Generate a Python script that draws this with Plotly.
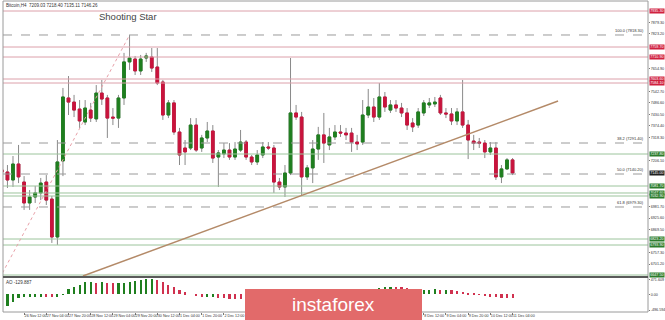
import plotly.graph_objects as go

# ---------------- data ----------------
open_ = [7160,7150,7111,7189,7101,6999,7028,7048,7101,7018,6833,7204,7511,7491,7457,7394,7452,7409,7535,7511,
         7418,7413,7511,7687,7701,7643,7706,7711,7662,7589,7428,7487,7345,7267,7267,7379,7267,7316,7350,7223,
         7238,7257,7223,7257,7296,7223,7199,7233,7272,7267,7101,7077,7145,7438,7418,7126,7170,7262,7331,7282,
         7321,7345,7340,7340,7296,7296,7428,7467,7418,7516,7452,7477,7462,7438,7389,7379,7438,7477,7482,7511,
         7438,7433,7399,7443,7379,7301,7296,7291,7248,7267,7126,7165,7209]
close = [7150,7111,7189,7126,6999,7028,7048,7096,7013,6833,7199,7516,7491,7452,7399,7462,7413,7535,7506,7413,
         7413,7511,7687,7706,7643,7701,7716,7657,7584,7428,7487,7345,7233,7248,7379,7257,7316,7350,7218,7243,
         7257,7223,7262,7296,7223,7199,7233,7272,7267,7101,7077,7145,7438,7418,7126,7170,7262,7331,7291,7321,
         7345,7340,7331,7296,7287,7428,7467,7418,7516,7467,7477,7462,7438,7379,7370,7443,7487,7487,7491,7438,
         7433,7399,7443,7379,7306,7291,7291,7248,7267,7126,7165,7209,7145]
high = [7184,7184,7228,7282,7130,7062,7082,7121,7135,7033,7306,7560,7618,7526,7501,7501,7487,7574,7599,7526,
        7462,7526,7731,7818,7716,7721,7731,7755,7755,7599,7501,7501,7365,7306,7413,7413,7331,7394,7379,7257,
        7291,7291,7296,7355,7306,7233,7257,7296,7296,7282,7121,7184,7706,7477,7443,7184,7306,7370,7438,7365,
        7379,7379,7365,7365,7331,7501,7555,7511,7584,7540,7501,7501,7487,7462,7413,7462,7501,7511,7516,7526,
        7462,7462,7462,7599,7404,7331,7316,7306,7296,7296,7184,7218,7218]
low = [7087,7072,7077,7096,6965,6965,6999,7013,6989,6804,6794,7130,7428,7418,7365,7379,7394,7394,7477,7316,
       7379,7365,7477,7648,7623,7623,7687,7638,7574,7404,7413,7331,7184,7184,7257,7248,7248,7296,7194,7077,
       7218,7209,7209,7248,7209,7184,7184,7218,7257,7048,7062,7028,7135,7404,7038,7111,7096,7209,7194,7257,
       7306,7321,7306,7248,7257,7282,7413,7394,7404,7443,7438,7443,7418,7355,7345,7365,7423,7462,7467,7428,
       7413,7379,7379,7365,7213,7257,7267,7218,7233,7111,7096,7160,7135]
ao = [-510,-360,-230,-130,-95,-88,-80,-70,-82,-90,-70,-15,170,230,300,390,400,370,375,350,
      340,350,365,400,430,455,480,490,460,400,300,230,150,60,0,-50,-100,-80,-75,-120,
      -130,-140,-145,-150,-160,-170,-165,-150,-140,-160,-190,-200,-150,-110,-120,-110,-80,-40,-20,0,
      20,40,50,45,40,80,130,160,200,220,240,235,220,190,160,140,145,150,160,140,
      145,120,100,80,40,10,-20,-50,-80,-100,-105,-120,-130]
time_labels = ["25 Nov 2019","26 Nov 12:00","27 Nov 04:00","27 Nov 20:00","28 Nov 12:00","29 Nov 04:00",
               "29 Nov 20:00","30 Nov 12:00","1 Dec 04:00","1 Dec 20:00","2 Dec 12:00","3 Dec 04:00",
               "3 Dec 20:00","4 Dec 12:00","5 Dec 04:00","5 Dec 20:00","6 Dec 12:00","7 Dec 04:00",
               "7 Dec 20:00","8 Dec 12:00","9 Dec 04:00","9 Dec 20:00","10 Dec 12:00","11 Dec 04:00"]
red_levels = [7935.3, 7759.7, 7710.9, 7603.6, 7584.1]
green_levels = [7237.8, 7081.7, 7047.6, 7032.9, 6823.2, 6793.9, 6647.5]
fib_names = ["100.0", "38.2", "50.0", "61.8"]
fib_prices = [7818.3, 7291.4, 7140.2, 6979.3]
fib_line_x = [0.1, 23]
fib_line_p = [6657.3, 7818.3]
trend_x = [14.6, 100.2]
trend_p = [6642.7, 7496.3]
tick_start, tick_step = 6645.1, 56.1
ao_labels = [471.609, 0.0, -496.594]
header = "Bitcoin,H4  7209.03 7218.40 7135.11 7146.26"
ao_title = "AO -129.887"

# ---------------- figure ----------------
W, H = 665, 320
n = len(close)
idx = list(range(n))
GREEN, RED = "#1f7f1f", "#c9143d"
FONT = "Liberation Sans"

def py(p):  # paper y from pixel row
    return 1 - p / H

X0, X1 = 3 / W, 648 / W
main_dom = [py(276), py(1)]
ao_dom = [py(312), py(278)]
yr = [6642.7, 7984.1]
ao_r = [-556, 512]

fig = go.Figure()
fig.add_trace(go.Candlestick(
    x=idx, open=open_, close=close, high=high, low=low,
    increasing=dict(line=dict(color="#8a8a8a", width=1), fillcolor="#8a8a8a"),
    decreasing=dict(line=dict(color="#8a8a8a", width=1), fillcolor="#8a8a8a"),
    whiskerwidth=0, showlegend=False, hoverinfo="skip", xaxis="x", yaxis="y"))
body_hi = [max(o, c) for o, c in zip(open_, close)]
body_lo = [min(o, c) for o, c in zip(open_, close)]
fig.add_trace(go.Candlestick(
    x=idx, open=open_, close=close, high=body_hi, low=body_lo,
    increasing=dict(line=dict(color=GREEN, width=1), fillcolor=GREEN),
    decreasing=dict(line=dict(color=RED, width=1), fillcolor=RED),
    whiskerwidth=0, showlegend=False, hoverinfo="skip", xaxis="x", yaxis="y"))

ao_colors = []
for k, v in enumerate(ao):
    ao_colors.append(GREEN if (k == 0 or v >= ao[k - 1]) else "#d0314f")
fig.add_trace(go.Bar(x=idx, y=ao, marker=dict(color=ao_colors, line=dict(width=0)),
                     width=0.38, showlegend=False, hoverinfo="skip", xaxis="x", yaxis="y2"))

shapes = []
for p in red_levels:
    shapes.append(dict(type="line", xref="paper", yref="y", x0=X0, x1=X1, y0=p, y1=p,
                       line=dict(color="#dca0aa", width=1)))
for p in green_levels:
    shapes.append(dict(type="line", xref="paper", yref="y", x0=X0, x1=X1, y0=p, y1=p,
                       line=dict(color="#9cc49c", width=1)))
for p in fib_prices:
    shapes.append(dict(type="line", xref="paper", yref="y", x0=X0, x1=X1, y0=p, y1=p,
                       line=dict(color="#9a9a9a", width=1, dash="dash")))
shapes.append(dict(type="line", xref="x", yref="y", x0=fib_line_x[0], x1=fib_line_x[1],
                   y0=fib_line_p[0], y1=fib_line_p[1], line=dict(color="#e8a0a8", width=1, dash="dot")))
shapes.append(dict(type="line", xref="x", yref="y", x0=trend_x[0], x1=trend_x[1],
                   y0=trend_p[0], y1=trend_p[1], line=dict(color="#b48a68", width=1.5)))
shapes.append(dict(type="rect", xref="paper", yref="paper", x0=X0, x1=X1, y0=ao_dom[0], y1=main_dom[1],
                   line=dict(color="#9a9a9a", width=1)))
shapes.append(dict(type="line", xref="paper", yref="paper", x0=X0, x1=X1, y0=py(277), y1=py(277),
                   line=dict(color="#5a5a5a", width=2)))
shapes.append(dict(type="rect", xref="paper", yref="paper", x0=245 / W, x1=422 / W, y0=0, y1=py(289),
                   fillcolor="#e26a6a", line=dict(width=0), layer="above"))

ann = []
def box(p, color):
    ann.append(dict(xref="paper", yref="y", x=X1 + 1 / W, y=p, xanchor="left", yanchor="middle",
                    text="%.2f" % p, showarrow=False, bgcolor=color,
                    font=dict(size=3.7, color="white", family=FONT), borderpad=0.2))
for p in red_levels:
    box(p, "#d0213f")
for p in green_levels:
    box(p, "#2d7d2d")
box(close[-1], "#202020")
for name, p in zip(fib_names, fib_prices):
    ann.append(dict(xref="paper", yref="y", x=X1 - 2 / W, y=p, xanchor="right", yanchor="bottom",
                    text="%s (%.2f)" % (name, p), showarrow=False,
                    font=dict(size=4, color="#333333", family=FONT)))
ann.append(dict(xref="paper", yref="paper", x=4 / W, y=py(1.5), xanchor="left", yanchor="top",
                text=header, showarrow=False, font=dict(size=4.5, color="#333333", family=FONT)))
ann.append(dict(xref="paper", yref="paper", x=128 / W, y=py(16), xanchor="center", yanchor="middle",
                text="Shooting Star", showarrow=False, font=dict(size=9.5, color="#444444", family=FONT)))
ann.append(dict(xref="paper", yref="paper", x=4 / W, y=py(278), xanchor="left", yanchor="top",
                text=ao_title, showarrow=False, font=dict(size=4.5, color="#333333", family=FONT)))
ann.append(dict(xref="paper", yref="paper", x=333 / W, y=py(304), xanchor="center", yanchor="middle",
                text="instaforex", showarrow=False, font=dict(size=19, color="white", family=FONT)))

boxed = red_levels + green_levels + [close[-1]]
ticks = []
t = tick_start
while t < yr[1]:
    if all(abs(t - b) > 28 for b in boxed):
        ticks.append(round(t, 2))
    t += tick_step

fig.update_layout(
    width=W, height=H, margin=dict(l=0, r=0, t=0, b=0, autoexpand=False),
    paper_bgcolor="white", plot_bgcolor="white", bargap=0,
    font=dict(family=FONT, size=4.5, color="#333333"),
    shapes=shapes, annotations=ann,
    xaxis=dict(domain=[X0, X1], range=[0.2, 116.4], anchor="y2", showgrid=False, zeroline=False,
               automargin=False, tickangle=0,
               rangeslider=dict(visible=False), tickvals=list(range(0, n, 4)), ticktext=time_labels,
               ticklabelposition="outside right", ticks="outside", ticklen=2, tickcolor="#777",
               tickfont=dict(size=3.7, color="#333")),
    yaxis=dict(domain=main_dom, range=yr, side="right", anchor="x", showgrid=False, zeroline=False,
               automargin=False,
               tickvals=ticks, ticktext=["%.2f" % v for v in ticks], ticks="outside", ticklen=1,
               tickcolor="#777", tickfont=dict(size=3.7, color="#333")),
    yaxis2=dict(domain=ao_dom, range=ao_r, side="right", anchor="x", showgrid=False, zeroline=False,
                automargin=False,
                tickvals=ao_labels, ticktext=["%.3f" % ao_labels[0], "0.00", "%.3f" % ao_labels[2]],
                ticks="outside", ticklen=1, tickcolor="#777", tickfont=dict(size=3.7, color="#333")),
)
fig.write_html("out.html")
